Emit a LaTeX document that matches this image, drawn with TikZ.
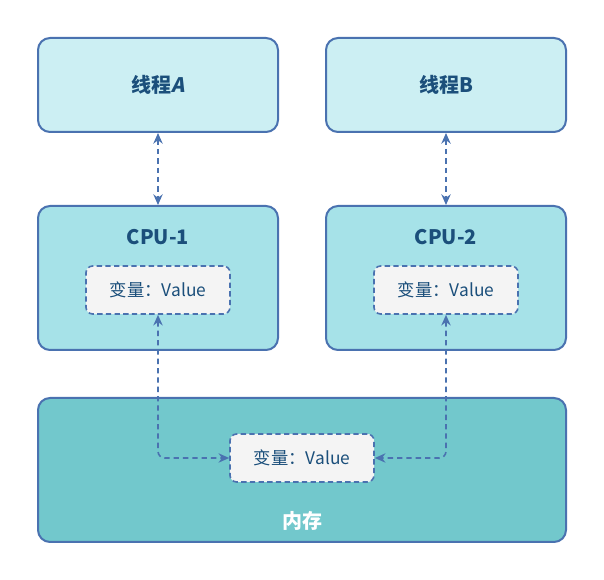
\documentclass[tikz,border=0pt]{standalone}
\usepackage{fontspec}
\setmainfont{Noto Sans CJK SC}
\newfontfamily\slantfont{Noto Sans CJK SC}[FakeSlant=0.2]
\usetikzlibrary{arrows.meta}
\definecolor{edge}{HTML}{4A72B0}
\definecolor{thr}{HTML}{CCEFF3}
\definecolor{cpu}{HTML}{A6E2E8}
\definecolor{mem}{HTML}{72C8CC}
\definecolor{var}{HTML}{F4F4F4}
\definecolor{txt}{HTML}{1B4F7B}
\tikzset{
  box/.style={draw=edge, line width=1.5pt, rounded corners=9pt},
  varbox/.style={draw=edge, line width=1.2pt, dashed, dash pattern=on 4pt off 2.5pt, rounded corners=5pt, fill=var, minimum width=108pt, minimum height=36pt, font=\fontsize{13}{15}\selectfont, text=txt},
  link/.style={draw=edge, line width=1.2pt, dash pattern=on 4pt off 3pt, rounded corners=5pt, {Stealth[length=8pt,width=7pt]}-{Stealth[length=8pt,width=7pt]}},
  lbl/.style={text=txt, font=\fontsize{15}{17}\selectfont\bfseries}
}
\begin{document}
\begin{tikzpicture}[x=0.75pt,y=-0.75pt]
\useasboundingbox (0,0) rectangle (604,580);
\fill[white] (0,0) rectangle (604,580);
% thread boxes
\node[box, fill=thr, minimum width=180pt, minimum height=70.5pt, lbl] (ta) at (158,85) {线程{\slantfont\bfseries A}};
\node[box, fill=thr, minimum width=180pt, minimum height=70.5pt, lbl] (tb) at (446,85) {线程B};
% cpu boxes
\node[box, fill=cpu, minimum width=180pt, minimum height=108pt] (c1) at (158,278) {};
\node[box, fill=cpu, minimum width=180pt, minimum height=108pt] (c2) at (446,278) {};
\node[lbl] (c1t) at (158,237) {CPU-1};
\node[lbl] (c2t) at (446,237) {CPU-2};
\node[varbox] (v1) at (158,290) {变量：Value};
\node[varbox] (v2) at (446,290) {变量：Value};
% memory
\node[box, fill=mem, minimum width=396pt, minimum height=108pt] (m) at (302,470) {};
\node[font=\fontsize{15}{17}\selectfont\bfseries, text=white] (mt) at (302,521) {内存};
\node[varbox] (vm) at (302,458) {变量：Value};
% connectors
\draw[link] (ta.south) -- (c1.north);
\draw[link] (tb.south) -- (c2.north);
\draw[link] (v1.south) |- (vm.west);
\draw[link] (v2.south) |- (vm.east);
\end{tikzpicture}
\end{document}
